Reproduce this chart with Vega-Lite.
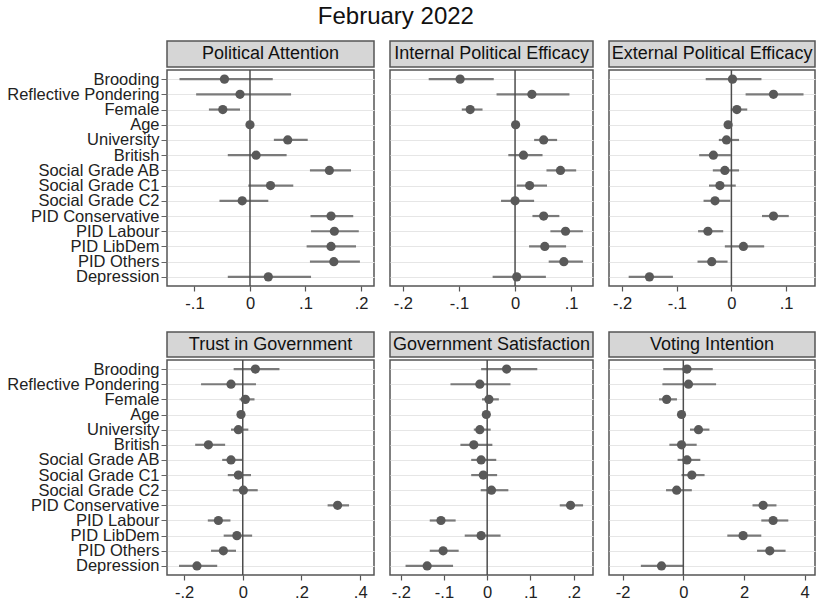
{
  "$schema": "https://vega.github.io/schema/vega-lite/v6.json",
  "background": "white",
  "padding": 5,
  "title": {"text": "February 2022", "fontSize": 24, "font": "Liberation Sans", "fontWeight": "normal", "anchor": "middle", "offset": 11, "dx": -15, "color": "#111"},
  "config": {
    "font": "Liberation Sans",
    "view": {"stroke": "#555", "strokeWidth": 1.5},
    "axisX": {"title": null, "domain": false, "grid": false, "tickSize": 5, "tickColor": "#555", "tickWidth": 1.2, "labelFontSize": 16.5, "labelColor": "#222", "labelPadding": 4, "labelFont": "Liberation Sans", "labelExpr": "replace(toString(datum.value), '0.', '.')"},
    "axisY": {"title": null, "domain": false, "grid": true, "gridColor": "#e6e6e6", "gridWidth": 1, "tickSize": 6, "tickColor": "#666", "labelFontSize": 16.5, "labelColor": "#222", "labelPadding": 2, "labelFont": "Liberation Sans"}
  },
  "datasets": {
    "coefs": [
      {"panel": "PA", "var": "Brooding", "coef": -0.046, "lo": -0.127, "hi": 0.041},
      {"panel": "PA", "var": "Reflective Pondering", "coef": -0.018, "lo": -0.097, "hi": 0.074},
      {"panel": "PA", "var": "Female", "coef": -0.049, "lo": -0.074, "hi": -0.018},
      {"panel": "PA", "var": "Age", "coef": 0.000, "lo": -0.003, "hi": 0.003},
      {"panel": "PA", "var": "University", "coef": 0.068, "lo": 0.043, "hi": 0.104},
      {"panel": "PA", "var": "British", "coef": 0.011, "lo": -0.040, "hi": 0.066},
      {"panel": "PA", "var": "Social Grade AB", "coef": 0.143, "lo": 0.108, "hi": 0.182},
      {"panel": "PA", "var": "Social Grade C1", "coef": 0.037, "lo": -0.003, "hi": 0.078},
      {"panel": "PA", "var": "Social Grade C2", "coef": -0.014, "lo": -0.055, "hi": 0.033},
      {"panel": "PA", "var": "PID Conservative", "coef": 0.146, "lo": 0.109, "hi": 0.186},
      {"panel": "PA", "var": "PID Labour", "coef": 0.152, "lo": 0.110, "hi": 0.196},
      {"panel": "PA", "var": "PID LibDem", "coef": 0.146, "lo": 0.102, "hi": 0.191},
      {"panel": "PA", "var": "PID Others", "coef": 0.151, "lo": 0.108, "hi": 0.198},
      {"panel": "PA", "var": "Depression", "coef": 0.033, "lo": -0.040, "hi": 0.110},

      {"panel": "IPE", "var": "Brooding", "coef": -0.098, "lo": -0.154, "hi": -0.038},
      {"panel": "IPE", "var": "Reflective Pondering", "coef": 0.030, "lo": -0.033, "hi": 0.097},
      {"panel": "IPE", "var": "Female", "coef": -0.080, "lo": -0.095, "hi": -0.058},
      {"panel": "IPE", "var": "Age", "coef": 0.001, "lo": -0.002, "hi": 0.004},
      {"panel": "IPE", "var": "University", "coef": 0.051, "lo": 0.034, "hi": 0.075},
      {"panel": "IPE", "var": "British", "coef": 0.015, "lo": -0.012, "hi": 0.049},
      {"panel": "IPE", "var": "Social Grade AB", "coef": 0.081, "lo": 0.056, "hi": 0.109},
      {"panel": "IPE", "var": "Social Grade C1", "coef": 0.026, "lo": 0.003, "hi": 0.057},
      {"panel": "IPE", "var": "Social Grade C2", "coef": 0.000, "lo": -0.025, "hi": 0.034},
      {"panel": "IPE", "var": "PID Conservative", "coef": 0.051, "lo": 0.031, "hi": 0.079},
      {"panel": "IPE", "var": "PID Labour", "coef": 0.090, "lo": 0.063, "hi": 0.121},
      {"panel": "IPE", "var": "PID LibDem", "coef": 0.053, "lo": 0.025, "hi": 0.091},
      {"panel": "IPE", "var": "PID Others", "coef": 0.087, "lo": 0.060, "hi": 0.121},
      {"panel": "IPE", "var": "Depression", "coef": 0.003, "lo": -0.040, "hi": 0.055},

      {"panel": "EPE", "var": "Brooding", "coef": 0.002, "lo": -0.047, "hi": 0.055},
      {"panel": "EPE", "var": "Reflective Pondering", "coef": 0.077, "lo": 0.026, "hi": 0.132},
      {"panel": "EPE", "var": "Female", "coef": 0.010, "lo": -0.001, "hi": 0.029},
      {"panel": "EPE", "var": "Age", "coef": -0.006, "lo": -0.009, "hi": -0.003},
      {"panel": "EPE", "var": "University", "coef": -0.009, "lo": -0.023, "hi": 0.014},
      {"panel": "EPE", "var": "British", "coef": -0.033, "lo": -0.059, "hi": -0.001},
      {"panel": "EPE", "var": "Social Grade AB", "coef": -0.012, "lo": -0.034, "hi": 0.014},
      {"panel": "EPE", "var": "Social Grade C1", "coef": -0.021, "lo": -0.041, "hi": 0.008},
      {"panel": "EPE", "var": "Social Grade C2", "coef": -0.030, "lo": -0.051, "hi": -0.002},
      {"panel": "EPE", "var": "PID Conservative", "coef": 0.077, "lo": 0.056, "hi": 0.105},
      {"panel": "EPE", "var": "PID Labour", "coef": -0.043, "lo": -0.061, "hi": -0.015},
      {"panel": "EPE", "var": "PID LibDem", "coef": 0.022, "lo": -0.012, "hi": 0.060},
      {"panel": "EPE", "var": "PID Others", "coef": -0.036, "lo": -0.062, "hi": -0.007},
      {"panel": "EPE", "var": "Depression", "coef": -0.150, "lo": -0.188, "hi": -0.107},

      {"panel": "TG", "var": "Brooding", "coef": 0.043, "lo": -0.031, "hi": 0.125},
      {"panel": "TG", "var": "Reflective Pondering", "coef": -0.040, "lo": -0.142, "hi": 0.045},
      {"panel": "TG", "var": "Female", "coef": 0.009, "lo": -0.011, "hi": 0.040},
      {"panel": "TG", "var": "Age", "coef": -0.006, "lo": -0.012, "hi": 0.000},
      {"panel": "TG", "var": "University", "coef": -0.015, "lo": -0.040, "hi": 0.019},
      {"panel": "TG", "var": "British", "coef": -0.117, "lo": -0.162, "hi": -0.060},
      {"panel": "TG", "var": "Social Grade AB", "coef": -0.040, "lo": -0.070, "hi": 0.000},
      {"panel": "TG", "var": "Social Grade C1", "coef": -0.015, "lo": -0.051, "hi": 0.028},
      {"panel": "TG", "var": "Social Grade C2", "coef": 0.002, "lo": -0.034, "hi": 0.051},
      {"panel": "TG", "var": "PID Conservative", "coef": 0.323, "lo": 0.289, "hi": 0.362},
      {"panel": "TG", "var": "PID Labour", "coef": -0.083, "lo": -0.119, "hi": -0.042},
      {"panel": "TG", "var": "PID LibDem", "coef": -0.020, "lo": -0.065, "hi": 0.032},
      {"panel": "TG", "var": "PID Others", "coef": -0.066, "lo": -0.108, "hi": -0.023},
      {"panel": "TG", "var": "Depression", "coef": -0.156, "lo": -0.217, "hi": -0.087},

      {"panel": "GS", "var": "Brooding", "coef": 0.045, "lo": -0.014, "hi": 0.116},
      {"panel": "GS", "var": "Reflective Pondering", "coef": -0.017, "lo": -0.085, "hi": 0.054},
      {"panel": "GS", "var": "Female", "coef": 0.004, "lo": -0.012, "hi": 0.027},
      {"panel": "GS", "var": "Age", "coef": -0.002, "lo": -0.006, "hi": 0.002},
      {"panel": "GS", "var": "University", "coef": -0.017, "lo": -0.031, "hi": 0.008},
      {"panel": "GS", "var": "British", "coef": -0.031, "lo": -0.062, "hi": 0.012},
      {"panel": "GS", "var": "Social Grade AB", "coef": -0.014, "lo": -0.037, "hi": 0.021},
      {"panel": "GS", "var": "Social Grade C1", "coef": -0.009, "lo": -0.037, "hi": 0.023},
      {"panel": "GS", "var": "Social Grade C2", "coef": 0.010, "lo": -0.015, "hi": 0.049},
      {"panel": "GS", "var": "PID Conservative", "coef": 0.193, "lo": 0.168, "hi": 0.222},
      {"panel": "GS", "var": "PID Labour", "coef": -0.107, "lo": -0.133, "hi": -0.073},
      {"panel": "GS", "var": "PID LibDem", "coef": -0.014, "lo": -0.052, "hi": 0.031},
      {"panel": "GS", "var": "PID Others", "coef": -0.102, "lo": -0.133, "hi": -0.066},
      {"panel": "GS", "var": "Depression", "coef": -0.139, "lo": -0.189, "hi": -0.079},

      {"panel": "VI", "var": "Brooding", "coef": 0.12, "lo": -0.66, "hi": 0.97},
      {"panel": "VI", "var": "Reflective Pondering", "coef": 0.17, "lo": -0.69, "hi": 1.08},
      {"panel": "VI", "var": "Female", "coef": -0.55, "lo": -0.80, "hi": -0.21},
      {"panel": "VI", "var": "Age", "coef": -0.06, "lo": -0.10, "hi": -0.02},
      {"panel": "VI", "var": "University", "coef": 0.50, "lo": 0.22, "hi": 0.86},
      {"panel": "VI", "var": "British", "coef": -0.06, "lo": -0.46, "hi": 0.44},
      {"panel": "VI", "var": "Social Grade AB", "coef": 0.12, "lo": -0.19, "hi": 0.56},
      {"panel": "VI", "var": "Social Grade C1", "coef": 0.28, "lo": -0.06, "hi": 0.70},
      {"panel": "VI", "var": "Social Grade C2", "coef": -0.22, "lo": -0.57, "hi": 0.28},
      {"panel": "VI", "var": "PID Conservative", "coef": 2.63, "lo": 2.28, "hi": 3.07},
      {"panel": "VI", "var": "PID Labour", "coef": 2.96, "lo": 2.57, "hi": 3.46},
      {"panel": "VI", "var": "PID LibDem", "coef": 1.97, "lo": 1.45, "hi": 2.57},
      {"panel": "VI", "var": "PID Others", "coef": 2.85, "lo": 2.43, "hi": 3.37},
      {"panel": "VI", "var": "Depression", "coef": -0.72, "lo": -1.40, "hi": 0.00}
    ]
  },
  "vconcat": [
    {
      "spacing": 14,
      "hconcat": [
        {
          "spacing": 0,
          "vconcat": [
            {"width": 207, "height": 26, "view": {"fill": "#d6d6d6", "stroke": "#555", "strokeWidth": 1.5}, "data": {"values": [{"label": "Political Attention"}]},
             "mark": {"type": "text", "fontSize": 18, "color": "#111", "font": "Liberation Sans"}, "encoding": {"text": {"field": "label"}}},
            {"width": 207, "height": 216, "data": {"name": "coefs"}, "transform": [{"filter": "datum.panel === 'PA'"}],
             "layer": [
               {"mark": {"type": "rule", "color": "#7a7a7a", "strokeWidth": 2.2},
                "encoding": {
                  "y": {"field": "var", "type": "nominal", "sort": ["Brooding","Reflective Pondering","Female","Age","University","British","Social Grade AB","Social Grade C1","Social Grade C2","PID Conservative","PID Labour","PID LibDem","PID Others","Depression"], "scale": {"type": "point", "padding": 0.6}, "axis": {}},
                  "x": {"field": "lo", "type": "quantitative", "scale": {"domain": [-0.1495, 0.2234], "nice": false, "zero": false}, "axis": {"values": [-0.1, 0, 0.1, 0.2]}},
                  "x2": {"field": "hi"}}},
               {"transform": [{"filter": "datum.var === 'Age'"}], "mark": {"type": "rule", "color": "#4d4d4d", "strokeWidth": 1.5}, "encoding": {"x": {"datum": 0, "type": "quantitative"}}},
               {"mark": {"type": "circle", "size": 85, "color": "#595959", "opacity": 1},
                "encoding": {"y": {"field": "var", "type": "nominal", "sort": ["Brooding","Reflective Pondering","Female","Age","University","British","Social Grade AB","Social Grade C1","Social Grade C2","PID Conservative","PID Labour","PID LibDem","PID Others","Depression"]}, "x": {"field": "coef", "type": "quantitative"}}}
             ]}
          ]
        },
        {
          "spacing": 0,
          "vconcat": [
            {"width": 203, "height": 26, "view": {"fill": "#d6d6d6", "stroke": "#555", "strokeWidth": 1.5}, "data": {"values": [{"label": "Internal Political Efficacy"}]},
             "mark": {"type": "text", "fontSize": 18, "color": "#111", "font": "Liberation Sans"}, "encoding": {"text": {"field": "label"}}},
            {"width": 203, "height": 216, "data": {"name": "coefs"}, "transform": [{"filter": "datum.panel === 'IPE'"}],
             "layer": [
               {"mark": {"type": "rule", "color": "#7a7a7a", "strokeWidth": 2.2},
                "encoding": {
                  "y": {"field": "var", "type": "nominal", "sort": ["Brooding","Reflective Pondering","Female","Age","University","British","Social Grade AB","Social Grade C1","Social Grade C2","PID Conservative","PID Labour","PID LibDem","PID Others","Depression"], "scale": {"type": "point", "padding": 0.6}, "axis": {"labels": false, "ticks": false}},
                  "x": {"field": "lo", "type": "quantitative", "scale": {"domain": [-0.223, 0.139], "nice": false, "zero": false}, "axis": {"values": [-0.2, -0.1, 0, 0.1]}},
                  "x2": {"field": "hi"}}},
               {"transform": [{"filter": "datum.var === 'Age'"}], "mark": {"type": "rule", "color": "#4d4d4d", "strokeWidth": 1.5}, "encoding": {"x": {"datum": 0, "type": "quantitative"}}},
               {"mark": {"type": "circle", "size": 85, "color": "#595959", "opacity": 1},
                "encoding": {"y": {"field": "var", "type": "nominal", "sort": ["Brooding","Reflective Pondering","Female","Age","University","British","Social Grade AB","Social Grade C1","Social Grade C2","PID Conservative","PID Labour","PID LibDem","PID Others","Depression"]}, "x": {"field": "coef", "type": "quantitative"}}}
             ]}
          ]
        },
        {
          "spacing": 0,
          "vconcat": [
            {"width": 206, "height": 26, "view": {"fill": "#d6d6d6", "stroke": "#555", "strokeWidth": 1.5}, "data": {"values": [{"label": "External Political Efficacy"}]},
             "mark": {"type": "text", "fontSize": 18, "color": "#111", "font": "Liberation Sans"}, "encoding": {"text": {"field": "label"}}},
            {"width": 206, "height": 216, "data": {"name": "coefs"}, "transform": [{"filter": "datum.panel === 'EPE'"}],
             "layer": [
               {"mark": {"type": "rule", "color": "#7a7a7a", "strokeWidth": 2.2},
                "encoding": {
                  "y": {"field": "var", "type": "nominal", "sort": ["Brooding","Reflective Pondering","Female","Age","University","British","Social Grade AB","Social Grade C1","Social Grade C2","PID Conservative","PID Labour","PID LibDem","PID Others","Depression"], "scale": {"type": "point", "padding": 0.6}, "axis": {"labels": false, "ticks": false}},
                  "x": {"field": "lo", "type": "quantitative", "scale": {"domain": [-0.224, 0.153], "nice": false, "zero": false}, "axis": {"values": [-0.2, -0.1, 0, 0.1]}},
                  "x2": {"field": "hi"}}},
               {"transform": [{"filter": "datum.var === 'Age'"}], "mark": {"type": "rule", "color": "#4d4d4d", "strokeWidth": 1.5}, "encoding": {"x": {"datum": 0, "type": "quantitative"}}},
               {"mark": {"type": "circle", "size": 85, "color": "#595959", "opacity": 1},
                "encoding": {"y": {"field": "var", "type": "nominal", "sort": ["Brooding","Reflective Pondering","Female","Age","University","British","Social Grade AB","Social Grade C1","Social Grade C2","PID Conservative","PID Labour","PID LibDem","PID Others","Depression"]}, "x": {"field": "coef", "type": "quantitative"}}}
             ]}
          ]
        }
      ]
    },
    {
      "spacing": 14,
      "hconcat": [
        {
          "spacing": 0,
          "vconcat": [
            {"width": 207, "height": 25, "view": {"fill": "#d6d6d6", "stroke": "#555", "strokeWidth": 1.5}, "data": {"values": [{"label": "Trust in Government"}]},
             "mark": {"type": "text", "fontSize": 18, "color": "#111", "font": "Liberation Sans"}, "encoding": {"text": {"field": "label"}}},
            {"width": 207, "height": 215, "data": {"name": "coefs"}, "transform": [{"filter": "datum.panel === 'TG'"}],
             "layer": [
               {"mark": {"type": "rule", "color": "#7a7a7a", "strokeWidth": 2.2},
                "encoding": {
                  "y": {"field": "var", "type": "nominal", "sort": ["Brooding","Reflective Pondering","Female","Age","University","British","Social Grade AB","Social Grade C1","Social Grade C2","PID Conservative","PID Labour","PID LibDem","PID Others","Depression"], "scale": {"type": "point", "padding": 0.6}, "axis": {}},
                  "x": {"field": "lo", "type": "quantitative", "scale": {"domain": [-0.258, 0.447], "nice": false, "zero": false}, "axis": {"values": [-0.2, 0, 0.2, 0.4]}},
                  "x2": {"field": "hi"}}},
               {"transform": [{"filter": "datum.var === 'Age'"}], "mark": {"type": "rule", "color": "#4d4d4d", "strokeWidth": 1.5}, "encoding": {"x": {"datum": 0, "type": "quantitative"}}},
               {"mark": {"type": "circle", "size": 85, "color": "#595959", "opacity": 1},
                "encoding": {"y": {"field": "var", "type": "nominal", "sort": ["Brooding","Reflective Pondering","Female","Age","University","British","Social Grade AB","Social Grade C1","Social Grade C2","PID Conservative","PID Labour","PID LibDem","PID Others","Depression"]}, "x": {"field": "coef", "type": "quantitative"}}}
             ]}
          ]
        },
        {
          "spacing": 0,
          "vconcat": [
            {"width": 203, "height": 25, "view": {"fill": "#d6d6d6", "stroke": "#555", "strokeWidth": 1.5}, "data": {"values": [{"label": "Government Satisfaction"}]},
             "mark": {"type": "text", "fontSize": 18, "color": "#111", "font": "Liberation Sans"}, "encoding": {"text": {"field": "label"}}},
            {"width": 203, "height": 215, "data": {"name": "coefs"}, "transform": [{"filter": "datum.panel === 'GS'"}],
             "layer": [
               {"mark": {"type": "rule", "color": "#7a7a7a", "strokeWidth": 2.2},
                "encoding": {
                  "y": {"field": "var", "type": "nominal", "sort": ["Brooding","Reflective Pondering","Female","Age","University","British","Social Grade AB","Social Grade C1","Social Grade C2","PID Conservative","PID Labour","PID LibDem","PID Others","Depression"], "scale": {"type": "point", "padding": 0.6}, "axis": {"labels": false, "ticks": false}},
                  "x": {"field": "lo", "type": "quantitative", "scale": {"domain": [-0.225, 0.245], "nice": false, "zero": false}, "axis": {"values": [-0.2, -0.1, 0, 0.1, 0.2]}},
                  "x2": {"field": "hi"}}},
               {"transform": [{"filter": "datum.var === 'Age'"}], "mark": {"type": "rule", "color": "#4d4d4d", "strokeWidth": 1.5}, "encoding": {"x": {"datum": 0, "type": "quantitative"}}},
               {"mark": {"type": "circle", "size": 85, "color": "#595959", "opacity": 1},
                "encoding": {"y": {"field": "var", "type": "nominal", "sort": ["Brooding","Reflective Pondering","Female","Age","University","British","Social Grade AB","Social Grade C1","Social Grade C2","PID Conservative","PID Labour","PID LibDem","PID Others","Depression"]}, "x": {"field": "coef", "type": "quantitative"}}}
             ]}
          ]
        },
        {
          "spacing": 0,
          "vconcat": [
            {"width": 206, "height": 25, "view": {"fill": "#d6d6d6", "stroke": "#555", "strokeWidth": 1.5}, "data": {"values": [{"label": "Voting Intention"}]},
             "mark": {"type": "text", "fontSize": 18, "color": "#111", "font": "Liberation Sans"}, "encoding": {"text": {"field": "label"}}},
            {"width": 206, "height": 215, "data": {"name": "coefs"}, "transform": [{"filter": "datum.panel === 'VI'"}],
             "layer": [
               {"mark": {"type": "rule", "color": "#7a7a7a", "strokeWidth": 2.2},
                "encoding": {
                  "y": {"field": "var", "type": "nominal", "sort": ["Brooding","Reflective Pondering","Female","Age","University","British","Social Grade AB","Social Grade C1","Social Grade C2","PID Conservative","PID Labour","PID LibDem","PID Others","Depression"], "scale": {"type": "point", "padding": 0.6}, "axis": {"labels": false, "ticks": false}},
                  "x": {"field": "lo", "type": "quantitative", "scale": {"domain": [-2.45, 4.34], "nice": false, "zero": false}, "axis": {"values": [-2, 0, 2, 4]}},
                  "x2": {"field": "hi"}}},
               {"transform": [{"filter": "datum.var === 'Age'"}], "mark": {"type": "rule", "color": "#4d4d4d", "strokeWidth": 1.5}, "encoding": {"x": {"datum": 0, "type": "quantitative"}}},
               {"mark": {"type": "circle", "size": 85, "color": "#595959", "opacity": 1},
                "encoding": {"y": {"field": "var", "type": "nominal", "sort": ["Brooding","Reflective Pondering","Female","Age","University","British","Social Grade AB","Social Grade C1","Social Grade C2","PID Conservative","PID Labour","PID LibDem","PID Others","Depression"]}, "x": {"field": "coef", "type": "quantitative"}}}
             ]}
          ]
        }
      ]
    }
  ],
  "spacing": 18
}
